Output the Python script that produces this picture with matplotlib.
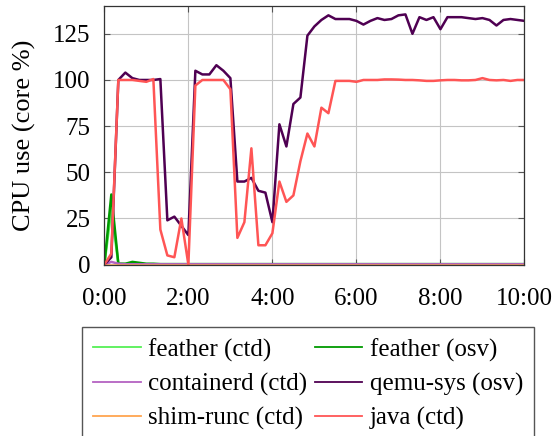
import matplotlib
matplotlib.use("Agg")
import matplotlib.pyplot as plt
from matplotlib.ticker import FuncFormatter

plt.rcParams['font.family'] = ['Liberation Serif', 'DejaVu Serif']
plt.rcParams['font.size'] = 18

# samples every 10 s over 10 minutes
t = [10 * k for k in range(61)]

feather_ctd = [0, 30, 0.5, 0.3, 0.3, 0.3, 0.2, 0.2, 0.2, 0.2,
               0.2, 0.2, 0.2, 0.2, 0.2, 0.2, 0.2, 0.2, 0.2, 0.2,
               0.2, 0.2, 0.2, 0.2, 0.2, 0.2, 0.2, 0.2, 0.2, 0.2,
               0.2, 0.2, 0.2, 0.2, 0.2, 0.2, 0.2, 0.2, 0.2, 0.2,
               0.2, 0.2, 0.2, 0.2, 0.2, 0.2, 0.2, 0.2, 0.2, 0.2,
               0.2, 0.2, 0.2, 0.2, 0.2, 0.2, 0.2, 0.2, 0.2, 0.2, 0.2]
feather_osv = [0, 38, 0.5, 0.5, 1.5, 1.0, 0.5, 0.5, 0.3, 0.3,
               0.3, 0.3, 0.3, 0.3, 0.3, 0.3, 0.3, 0.3, 0.3, 0.3,
               0.3, 0.3, 0.3, 0.3, 0.3, 0.3, 0.3, 0.3, 0.3, 0.3,
               0.3, 0.3, 0.3, 0.3, 0.3, 0.3, 0.3, 0.3, 0.3, 0.3,
               0.3, 0.3, 0.3, 0.3, 0.3, 0.3, 0.3, 0.3, 0.3, 0.3,
               0.3, 0.3, 0.3, 0.3, 0.3, 0.3, 0.3, 0.3, 0.3, 0.3, 0.3]
containerd_ctd = [0, 1.5, 0.5, 0.2, 0.2, 0.2, 0.2, 0.2, 0.2, 0.2,
                  0.2, 0.2, 0.2, 0.2, 0.2, 0.2, 0.2, 0.2, 0.2, 0.2,
                  0.2, 0.2, 0.2, 0.2, 0.2, 0.2, 0.2, 0.2, 0.2, 0.2,
                  0.2, 0.2, 0.2, 0.2, 0.2, 0.2, 0.2, 0.2, 0.2, 0.2,
                  0.2, 0.2, 0.2, 0.2, 0.2, 0.2, 0.2, 0.2, 0.2, 0.2,
                  0.2, 0.2, 0.2, 0.2, 0.2, 0.2, 0.2, 0.2, 0.2, 0.2, 0.2]
qemu_sys_osv = [0, 4, 100, 104, 101, 100, 100, 100, 100.5, 24,
                26, 21, 16, 105, 103, 103, 108, 105, 101, 45,
                45, 47, 40, 39, 23, 76, 64, 87, 90.5, 124,
                129, 132.5, 135, 133, 133, 133, 132, 130, 132, 133.5,
                132.5, 133, 135, 135.5, 125, 134, 132.5, 134, 127.5, 134,
                134, 134, 133.5, 133, 133.5, 132.5, 129.5, 132.5, 133, 132.5, 132]
shim_runc_ctd = [0] * 61
java_ctd = [0, 6, 100, 100, 100, 99.5, 99, 100.5, 19, 5,
            4, 25, 0, 97, 100, 100, 100, 100, 95, 14.5,
            23, 63, 10.5, 10.5, 17, 45, 34, 37.5, 56, 71,
            64, 85, 82, 99.5, 99.5, 99.5, 99, 100, 100, 100,
            100.3, 100.3, 100.2, 100, 100, 99.8, 99.5, 99.5, 99.8, 100,
            100, 99.8, 99.8, 100, 101, 100, 99.8, 100, 99.5, 100, 100]

series = [
    ("feather (ctd)", feather_ctd, "#55f055"),
    ("feather (osv)", feather_osv, "#009a00"),
    ("containerd (ctd)", containerd_ctd, "#b462c2"),
    ("qemu-sys (osv)", qemu_sys_osv, "#4f0052"),
    ("shim-runc (ctd)", shim_runc_ctd, "#ffa54f"),
    ("java (ctd)", java_ctd, "#ff5555"),
]

fig = plt.figure(figsize=(5.55, 4.36), dpi=100)
ax = fig.add_axes([0.188, 0.393, 0.757, 0.593])

lines = {}
for name, values, color in series:
    lines[name], = ax.plot(t, values, color=color, lw=1.8, label=name)

ax.set_xlim(0, 600)
ax.set_ylim(0, 140)
ax.set_xticks(range(0, 601, 120))
ax.set_yticks(range(0, 126, 25))
ax.xaxis.set_major_formatter(FuncFormatter(lambda s, _: f"{int(s) // 60}:{int(s) % 60:02d}"))
ax.grid(True, color="#c4c4c4", lw=0.8)
ax.set_axisbelow(True)
ax.tick_params(direction="in", length=4.5, width=0.8, color="#555555",
               top=True, right=True, labelsize=18)
ax.tick_params(axis="x", pad=17)
ax.tick_params(axis="y", pad=10)
for sp in ax.spines.values():
    sp.set_color("#333333")
    sp.set_linewidth(0.9)
ax.set_ylabel("CPU use (core %)", fontsize=19, labelpad=12)

# legend is filled column-wise, so reorder to get row-wise reading
order = ["feather (ctd)", "containerd (ctd)", "shim-runc (ctd)",
         "feather (osv)", "qemu-sys (osv)", "java (ctd)"]
leg = fig.legend([lines[n] for n in order], order, ncol=2,
                 loc="upper left", bbox_to_anchor=(0.1477, 0.25),
                 fontsize=18, frameon=True, fancybox=False, framealpha=1,
                 edgecolor="#555555", handlelength=1.9, handletextpad=0.3,
                 columnspacing=0.3, labelspacing=0.45, borderpad=0.45,
                 borderaxespad=0)
leg.get_frame().set_linewidth(1.0)
for h in leg.get_lines():
    h.set_linewidth(1.3)

fig.savefig("out.png", dpi=100)
